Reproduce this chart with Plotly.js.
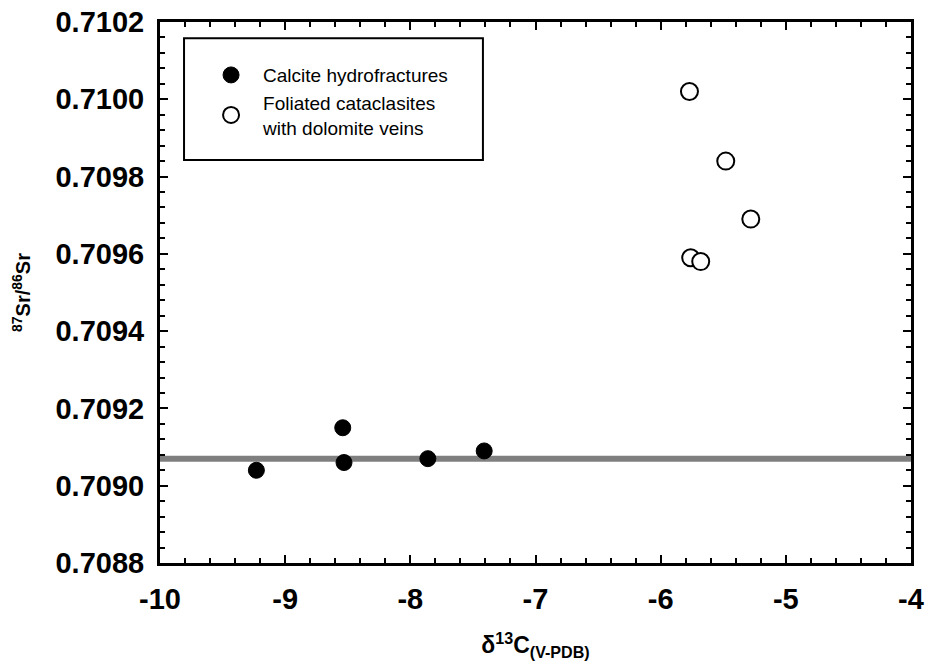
<!DOCTYPE html>
<html>
<head>
<meta charset="utf-8">
<script src="https://cdn.plot.ly/plotly-3.0.1.min.js"></script>
<style>html,body{margin:0;padding:0;background:#fff;}#chart{width:926px;height:666px;}</style>
</head>
<body>
<div id="chart"></div>
<script>
// Data
const calciteX = [-9.23, -8.54, -8.53, -7.86, -7.41];
const calciteY = [0.70904, 0.70915, 0.70906, 0.70907, 0.70909];
const foliatedX = [-5.77, -5.48, -5.28, -5.76, -5.68];
const foliatedY = [0.71002, 0.70984, 0.70969, 0.70959, 0.70958];
const seawaterX = [-10, -4];
const seawaterY = [0.70907, 0.70907];
const xTickVals = [-10, -9, -8, -7, -6, -5, -4];
const yTickVals = [0.7088, 0.7090, 0.7092, 0.7094, 0.7096, 0.7098, 0.7100, 0.7102];
const seriesNames = ['Calcite hydrofractures', 'Foliated cataclasites<br>with dolomite veins'];

const FONT = 'Liberation Sans, Arial, Helvetica, sans-serif';

const traces = [
  {
    x: seawaterX, y: seawaterY, mode: 'lines', showlegend: false, hoverinfo: 'skip',
    line: {color: '#7f7f7f', width: 6}
  },
  {
    x: calciteX, y: calciteY, mode: 'markers', name: seriesNames[0],
    marker: {symbol: 'circle', size: 16, color: '#000', line: {color: '#000', width: 1}}
  },
  {
    x: foliatedX, y: foliatedY, mode: 'markers', name: seriesNames[1],
    marker: {symbol: 'circle', size: 17, color: '#fff', line: {color: '#000', width: 2}}
  }
];

const axisCommon = {
  showgrid: false, zeroline: false, showline: true, linecolor: '#000', linewidth: 3,
  mirror: 'ticks', ticks: 'inside', tickcolor: '#000', tickwidth: 2, ticklen: 8,
  tickfont: {family: FONT, size: 29, color: '#000', weight: 'bold'}
};

const layout = {
  width: 926, height: 666,
  margin: {l: 160, r: 15, t: 22, b: 103},
  paper_bgcolor: '#fff', plot_bgcolor: '#fff',
  font: {family: FONT, color: '#000'},
  showlegend: true,
  xaxis: Object.assign({}, axisCommon, {
    range: [-10, -4], tickvals: xTickVals, ticktext: xTickVals.map(String),
    ticklabelstandoff: 8,
    minor: {ticks: 'inside', dtick: 0.2, ticklen: 5, tickwidth: 2, tickcolor: '#000'},
    title: {text: 'δ<sup>13</sup>C<sub>(V-PDB)</sub>', standoff: 24,
            font: {family: FONT, size: 23, color: '#000', weight: 'bold'}}
  }),
  yaxis: Object.assign({}, axisCommon, {
    range: [0.7088, 0.7102], tickvals: yTickVals, tickformat: '.4f',
    ticklabelstandoff: 7,
    minor: {ticks: 'inside', dtick: 0.00004, ticklen: 5, tickwidth: 2, tickcolor: '#000'},
    title: {text: '<sup>87</sup>Sr/<sup>86</sup>Sr', standoff: 20,
            font: {family: FONT, size: 20, color: '#000', weight: 'bold'}}
  }),
  legend: {
    x: 0.052, y: 0.937, xanchor: 'left', yanchor: 'top',
    bgcolor: 'rgba(0,0,0,0)', borderwidth: 0,
    font: {family: FONT, size: 19, color: '#000'},
    itemwidth: 54, tracegroupgap: 2
  },
  shapes: [
    {type: 'rect', xref: 'paper', yref: 'paper', x0: 0.032, x1: 0.430, y0: 0.745, y1: 0.970,
     line: {color: '#000', width: 2}, fillcolor: 'rgba(0,0,0,0)', layer: 'below'}
  ]
};

Plotly.newPlot('chart', traces, layout, {displayModeBar: false, staticPlot: true});
</script>
</body>
</html>
